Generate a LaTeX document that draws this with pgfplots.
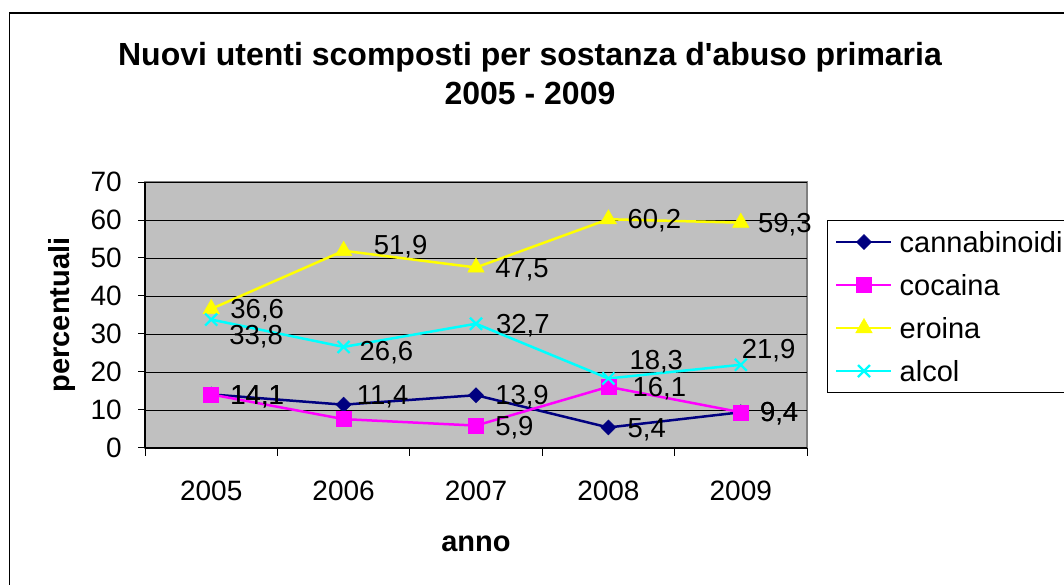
\documentclass[border=0pt]{standalone}
\usepackage{pgfplots}
\pgfplotsset{compat=1.18}
\usepackage{fontspec}
\setmainfont{Liberation Sans}
\definecolor{plotgray}{HTML}{C0C0C0}
\definecolor{bordergray}{HTML}{808080}
\definecolor{navyc}{HTML}{000080}
\definecolor{magc}{HTML}{FF00FF}
\definecolor{yelc}{HTML}{FFFF00}
\definecolor{cyac}{HTML}{00FFFF}
\begin{document}
\begin{tikzpicture}[x=1pt,y=1pt]
\useasboundingbox (0,0) rectangle (1064,585);
\draw[line width=1.5pt, black] (9.5,-10) -- (9.5,572) -- (1080,572);
\begin{axis}[
  at={(145pt,137pt)}, anchor=south west,
  scale only axis, width=662pt, height=266pt,
  xmin=-0.5, xmax=4.5, ymin=0, ymax=70,
  axis lines=left, axis line style={-, black, line width=1.2pt},
  axis background/.style={fill=plotgray, draw=bordergray, line width=1.5pt},
  ytick={0,10,...,70},
  xtick={0,1,2,3,4},
  xticklabels={2005,2006,2007,2008,2009},
  minor xtick={-0.5,0.5,1.5,2.5,3.5,4.5},
  major x tick style={draw=none},
  minor x tick style={black, line width=1pt},
  y tick style={black, line width=1pt},
  tick align=outside,
  major tick length=7pt, minor tick length=8pt,
  ymajorgrids, grid style={black, line width=0.9pt},
  /pgf/number format/assume math mode=true,
  tick label style={font=\fontsize{28}{28}\selectfont},
  yticklabel style={anchor=east, inner sep=0pt, xshift=-16pt},
  xticklabel style={anchor=base, inner sep=0pt, yshift=-46pt},
  xlabel={anno}, ylabel={percentuali},
  xlabel style={at={(axis description cs:0.5,-0.362)}, anchor=center, font=\bfseries\fontsize{29}{29}\selectfont},
  ylabel style={at={(axis description cs:-0.1254,0.5)}, anchor=center, font=\bfseries\fontsize{29}{29}\selectfont},
  title={Nuovi utenti scomposti per sostanza d\textquotesingle abuso primaria\\2005 - 2009},
  title style={at={(axis description cs:0.5816,1.385)}, anchor=center, align=center, font=\bfseries\fontsize{32}{39}\selectfont},
  legend style={at={(1.0298,0.857)}, anchor=north west, draw=black, line width=1pt, fill=white,
    inner xsep=8pt, inner ysep=11pt, row sep=22pt, column sep=7pt,
    font=\fontsize{29}{29}\selectfont,
    nodes={inner sep=0pt, text height=21pt, text depth=0pt, text width=175pt}},
  legend cell align=left,
  legend image code/.code={\draw[mark repeat=2,mark phase=2,#1] plot coordinates {(0pt,0pt) (27.5pt,0pt) (55pt,0pt)};},
  point meta=explicit symbolic,
  nodes near coords,
  visualization depends on={value \thisrow{dx} \as \labdx},
  visualization depends on={value \thisrow{dy} \as \labdy},
  every node near coord/.append style={font=\fontsize{27.5}{27.5}\selectfont, text=black, anchor=base west, inner sep=0pt,
    xshift={(19+\labdx)*1pt}, yshift={(-9.7+\labdy)*1pt}},
]
\addplot[color=navyc, line width=2.5pt, mark=square*, mark size=5.3pt, mark options={rotate=45, solid, line width=0.5pt}]
 table[x=x, y=y, meta=lab] {
x y lab dx dy
0 14.1 14,1 0 0
1 11.4 11,4 -6 10
2 13.9 13,9 0 0
3 5.4 5,4 0 0
4 9.4 9,4 0 0
};
\addplot[color=magc, line width=2.5pt, mark=square*, mark size=7.5pt, mark options={solid, line width=0.5pt}]
 table[x=x, y=y, meta=lab] {
x y lab dx dy
0 14.1 14,1 0 0
1 7.6 {} 0 0
2 5.9 5,9 0 0
3 16.1 16,1 5 0
4 9.4 9,4 0 0
};
\addplot[color=yelc, line width=2.5pt, mark=triangle*, mark size=9.5pt, mark options={solid, line width=0.5pt}]
 table[x=x, y=y, meta=lab] {
x y lab dx dy
0 36.6 36,6 0 0
1 51.9 51,9 11 6
2 47.5 47,5 0 0
3 60.2 60,2 0 0
4 59.3 59,3 -2 0
};
\addplot[color=cyac, line width=2.5pt, mark=x, mark size=8.5pt, mark options={solid, line width=2.2pt}]
 table[x=x, y=y, meta=lab] {
x y lab dx dy
0 33.8 33,8 -2 -15
1 26.6 26,6 -4 -4
2 32.7 32,7 0 0
3 18.3 18,3 1 19
4 21.9 21,9 -19 16
};
\legend{cannabinoidi,cocaina,eroina,alcol}
\end{axis}
\end{tikzpicture}
\end{document}
